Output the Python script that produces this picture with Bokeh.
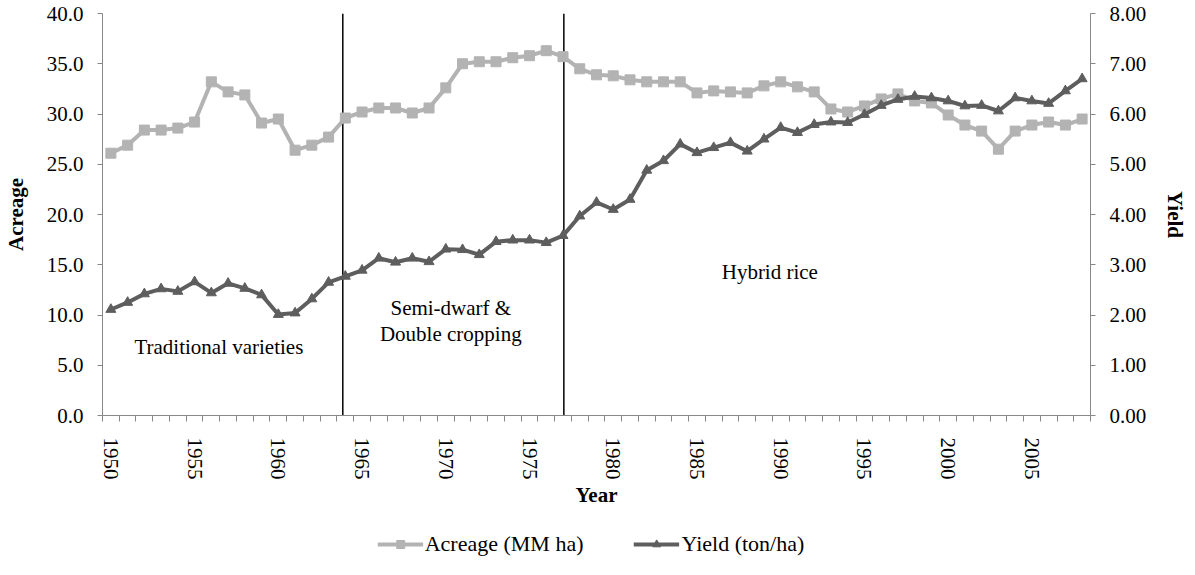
from bokeh.plotting import figure
from bokeh.layouts import column
from bokeh.models import (ColumnDataSource, Range1d, LinearAxis, FixedTicker,
                          PrintfTickFormatter, Legend, LegendItem)
from bokeh.core.properties import value
from bokeh.embed import file_html
from bokeh.resources import INLINE

# ---------------- data ----------------
years = list(range(1950, 2009))
acreage = [26.1, 26.9, 28.4, 28.4, 28.6, 29.2, 33.2, 32.2, 31.9, 29.1,
           29.5, 26.4, 26.9, 27.7, 29.6, 30.2, 30.6, 30.6, 30.1, 30.6,
           32.6, 35.0, 35.2, 35.2, 35.6, 35.8, 36.3, 35.7, 34.5, 33.9,
           33.8, 33.4, 33.2, 33.2, 33.2, 32.1, 32.3, 32.2, 32.1, 32.8,
           33.2, 32.7, 32.2, 30.5, 30.2, 30.8, 31.5, 32.0, 31.3, 31.1,
           29.9, 28.9, 28.3, 26.5, 28.3, 28.9, 29.2, 28.9, 29.5]
yields = [2.11, 2.25, 2.42, 2.52, 2.47, 2.66, 2.44, 2.63, 2.53, 2.40,
          2.01, 2.04, 2.32, 2.65, 2.77, 2.89, 3.13, 3.05, 3.13, 3.06,
          3.31, 3.30, 3.20, 3.46, 3.49, 3.49, 3.44, 3.58, 3.97, 4.24,
          4.10, 4.30, 4.88, 5.07, 5.40, 5.23, 5.33, 5.43, 5.26, 5.50,
          5.73, 5.63, 5.79, 5.84, 5.83, 5.99, 6.17, 6.29, 6.35, 6.32,
          6.26, 6.16, 6.17, 6.06, 6.32, 6.26, 6.21, 6.46, 6.70]
year_labels = [1950, 1955, 1960, 1965, 1970, 1975, 1980, 1985, 1990, 1995, 2000, 2005]
acreage_ticks = [0, 5, 10, 15, 20, 25, 30, 35, 40]
yield_ticks = [0, 1, 2, 3, 4, 5, 6, 7, 8]
era_boundaries = [1963.85, 1977.05]
era_labels = ["Traditional varieties", "Semi-dwarf &", "Double cropping", "Hybrid rice"]
era_label_x = [1956.45, 1970.3, 1970.3, 1989.35]
era_label_y = [6.8, 10.7, 8.1, 14.3]
series_names = ["Acreage (MM ha)", "Yield (ton/ha)"]

FONT = "Liberation Serif"
FS = "21px"
AXIS_COLOR = "#888888"
ACR_COLOR = "#B3B3B3"
YLD_COLOR = "#5E5E5E"

src = ColumnDataSource(dict(year=years, acreage=acreage, yld=yields))

p = figure(frame_width=988, frame_height=402, output_backend="svg",
           toolbar_location=None,
           x_range=Range1d(1949.5, 2008.5), y_range=Range1d(0, 40),
           min_border_left=98, min_border_right=93, min_border_top=13,
           min_border_bottom=110)
p.extra_y_ranges = {"yield": Range1d(0, 8)}
p.outline_line_color = None
p.grid.visible = False
p.background_fill_color = "white"
p.border_fill_color = "white"

# era boundary lines
p.segment(x0=era_boundaries, y0=[0] * len(era_boundaries),
          x1=era_boundaries, y1=[40] * len(era_boundaries),
          line_color="black", line_width=1.5)

# series
def draw_series(fig):
    la = fig.line("year", "acreage", source=src, line_color=ACR_COLOR, line_width=4)
    sa = fig.scatter("year", "acreage", source=src, marker="square", size=10,
                     fill_color=ACR_COLOR, line_color=ACR_COLOR)
    ly = fig.line("year", "yld", source=src, y_range_name="yield",
                  line_color=YLD_COLOR, line_width=4)
    sy = fig.scatter("year", "yld", source=src, y_range_name="yield",
                     marker="triangle", size=10,
                     fill_color=YLD_COLOR, line_color=YLD_COLOR)
    return la, sa, ly, sy

draw_series(p)

# era labels
p.text(x=era_label_x, y=era_label_y, text=era_labels, text_font=value(FONT),
       text_font_size=FS, text_align="center", text_baseline="middle",
       text_color="black")

# axes styling
def style_axis(ax):
    ax.axis_line_color = AXIS_COLOR
    ax.major_tick_line_color = AXIS_COLOR
    ax.minor_tick_line_color = AXIS_COLOR
    ax.major_label_text_font = FONT
    ax.major_label_text_font_size = FS
    ax.major_label_text_color = "black"
    ax.axis_label_text_font = FONT
    ax.axis_label_text_font_size = FS
    ax.axis_label_text_font_style = "bold"
    ax.axis_label_text_color = "black"

xax = p.xaxis[0]
xax.ticker = FixedTicker(ticks=year_labels,
                         minor_ticks=[y - 0.5 for y in years] + [years[-1] + 0.5])
xax.major_tick_in = 0
xax.major_tick_out = 0
xax.minor_tick_in = 0
xax.minor_tick_out = 6
xax.major_label_orientation = "vertical"
xax.major_label_standoff = 16
xax.axis_label = "Year"
xax.axis_label_standoff = 0
style_axis(xax)

yax = p.yaxis[0]
yax.ticker = FixedTicker(ticks=acreage_ticks)
yax.formatter = PrintfTickFormatter(format="%.1f")
yax.major_tick_in = 0
yax.major_tick_out = 5
yax.minor_tick_out = 0
yax.minor_tick_in = 0
yax.major_label_standoff = 14
yax.axis_label = "Acreage"
yax.axis_label_standoff = 16
style_axis(yax)

rax = LinearAxis(y_range_name="yield", ticker=FixedTicker(ticks=yield_ticks),
                 formatter=PrintfTickFormatter(format="%.2f"), axis_label="Yield")
rax.major_tick_in = 0
rax.major_tick_out = 5
rax.minor_tick_out = 0
rax.minor_tick_in = 0
rax.major_label_standoff = 14
rax.axis_label_standoff = 14
style_axis(rax)
p.add_layout(rax, "right")

# ---------------- legend strip ----------------
# The same series are drawn here with ranges that keep them out of view,
# so the legend entries show the real line + marker styles.
lg = figure(width=1179, height=34, output_backend="svg", toolbar_location=None,
            x_range=Range1d(0, 1), y_range=Range1d(0, 1),
            x_axis_location=None, y_axis_location=None, min_border=0)
lg.extra_y_ranges = {"yield": Range1d(0, 1)}
lg.outline_line_color = None
lg.grid.visible = False
la, sa, ly, sy = draw_series(lg)
legend = Legend(items=[LegendItem(label=series_names[0], renderers=[la, sa]),
                       LegendItem(label=series_names[1], renderers=[ly, sy])],
                orientation="horizontal", location="bottom_center")
legend.label_text_font = FONT
legend.label_text_font_size = "22px"
legend.label_text_color = "black"
legend.glyph_width = 46
legend.label_standoff = 2
legend.spacing = 50
legend.border_line_alpha = 0
legend.background_fill_alpha = 0
legend.margin = 0
legend.padding = 2
lg.add_layout(legend, "center")

layout = column(p, lg, spacing=0)

open("out.html", "w").write(file_html(layout, INLINE))
